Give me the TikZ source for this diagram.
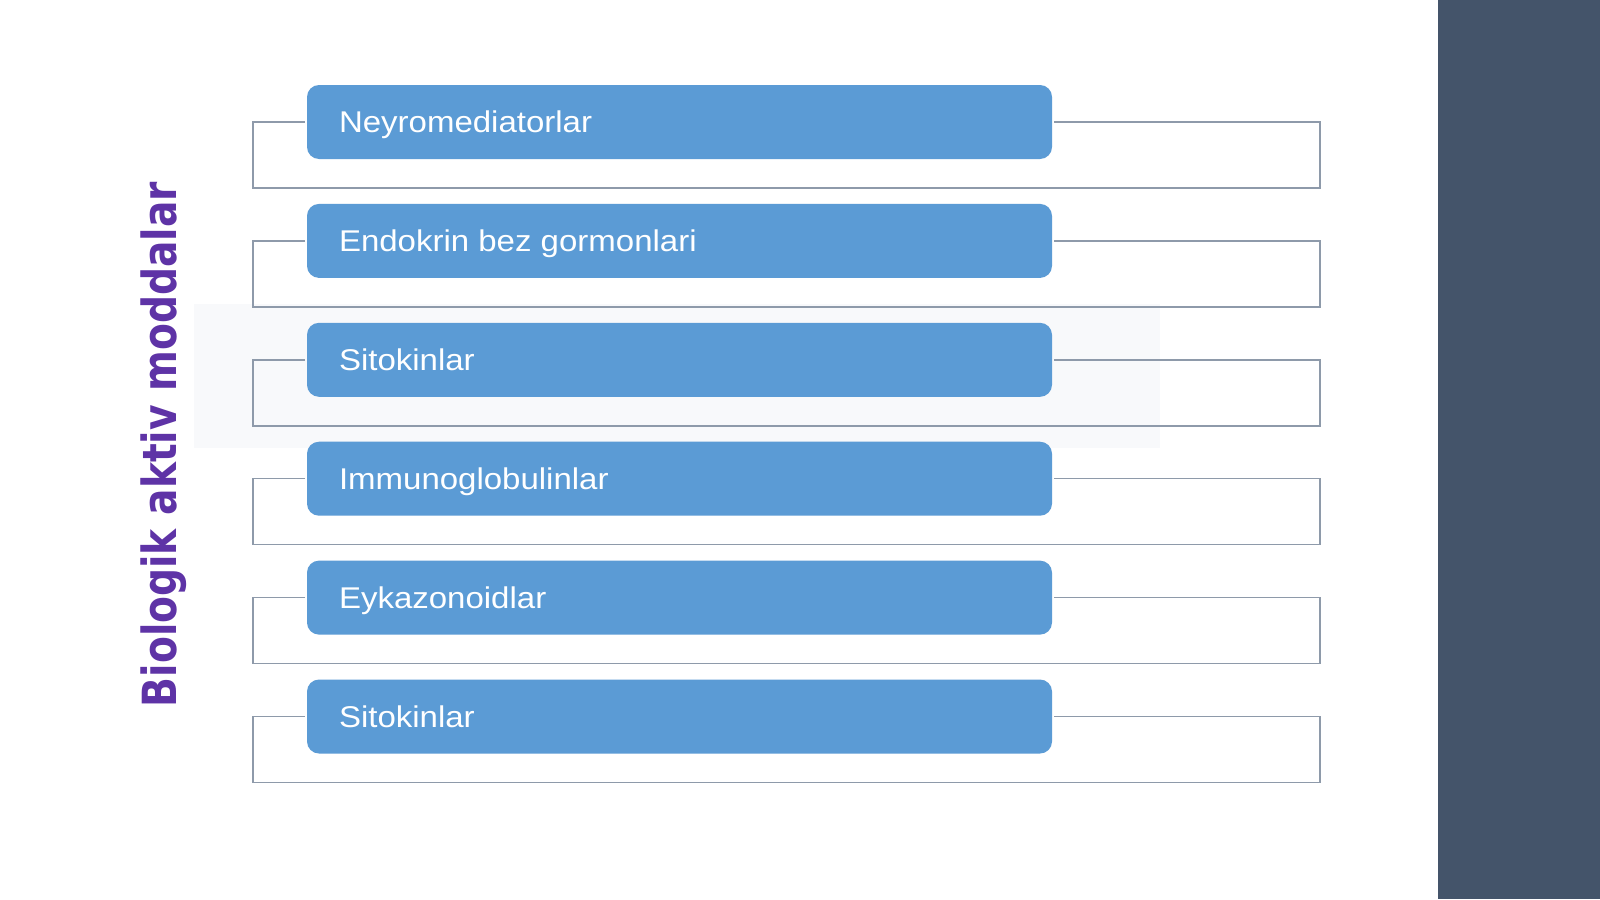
\documentclass[tikz,border=0pt]{standalone}
\usepackage{fontspec}
\usepackage{graphicx}
\newfontfamily\boxfont{Liberation Sans}
\newfontfamily\titlefont{DejaVu Sans}
\definecolor{boxblue}{HTML}{5B9BD5}
\definecolor{framegray}{HTML}{8E9AAA}
\definecolor{panelslate}{HTML}{44546A}
\definecolor{titlepurple}{HTML}{5E33A6}
\definecolor{faintgray}{HTML}{F8F9FB}
\begin{document}
\begin{tikzpicture}[x=1pt,y=-1pt,
  itembox/.style={fill=boxblue, rounded corners=12pt, minimum width=745pt, minimum height=74pt, inner sep=0pt},
  itemtext/.style={text=white, font=\boxfont\fontsize{30}{36}\selectfont, inner sep=0pt},
  frameline/.style={draw=framegray, line width=1.5pt},
  titletext/.style={text=titlepurple, font=\titlefont\bfseries\fontsize{39.2}{46}\selectfont, inner sep=0pt}
]
\useasboundingbox (0,0) rectangle (1600,899);
\fill[white] (0,0) rectangle (1600,899);
\fill[faintgray] (194,304) rectangle (1160,448);
\fill[panelslate] (1438,0) rectangle (1600,899);

\node[titletext, rotate=90, anchor=base] (title) at (176,444.5) {\scalebox{1}[1.2]{Biologik aktiv moddalar}};

\foreach \t [count=\i] in {Neyromediatorlar, Endokrin bez gormonlari, Sitokinlar, Immunoglobulinlar, Eykazonoidlar, Sitokinlar} {
  \pgfmathsetmacro\yc{122+(\i-1)*118.9}
  \coordinate (bl\i) at (253,\yc+66);
  \coordinate (br\i) at (1320,\yc+66);
  \draw[frameline] (305,\yc) -| (bl\i) -- (br\i) |- (1054,\yc);
  \node[itembox] (b\i) at (679.5,\yc) {};
  \node[itemtext, anchor=base west] (t\i) at ([xshift=32pt,yshift=-10.7pt]b\i.west) {\scalebox{1.1}[1]{\t}};
}
\end{tikzpicture}
\end{document}
